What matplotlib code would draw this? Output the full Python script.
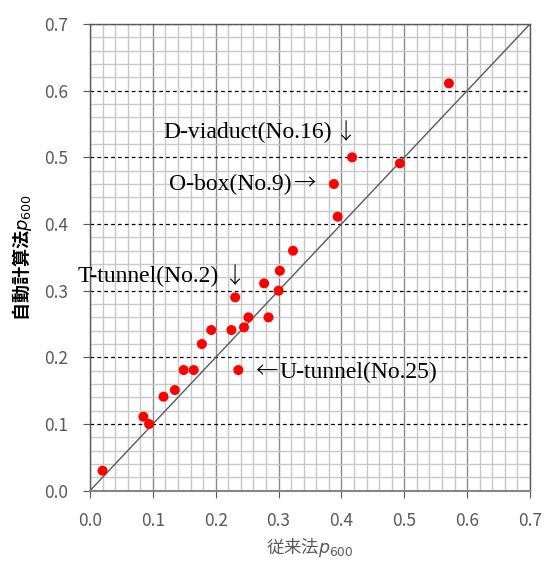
import matplotlib
matplotlib.use("Agg")
import matplotlib.pyplot as plt
import numpy as np

plt.rcParams['font.family'] = ['Noto Sans CJK JP', 'DejaVu Sans']

# conventional method p600 vs automatic calculation p600
conv_p600 = [0.571, 0.417, 0.493, 0.388, 0.394, 0.323, 0.302, 0.277, 0.300,
             0.231, 0.252, 0.284, 0.193, 0.225, 0.245, 0.178, 0.149, 0.165,
             0.236, 0.135, 0.117, 0.085, 0.094, 0.020]
auto_p600 = [0.611, 0.500, 0.491, 0.460, 0.411, 0.360, 0.330, 0.311, 0.300,
             0.290, 0.260, 0.260, 0.241, 0.241, 0.245, 0.220, 0.181, 0.181,
             0.181, 0.151, 0.141, 0.111, 0.100, 0.030]

ticks = [0.0, 0.1, 0.2, 0.3, 0.4, 0.5, 0.6, 0.7]
tick_labels = ["0.0", "0.1", "0.2", "0.3", "0.4", "0.5", "0.6", "0.7"]

# annotations: label, label x (left edge), arrow, arrow x (centre), y (centre)
notes = [
    ("D-viaduct(No.16)", 0.116, "↓", 0.406, 0.537),
    ("O-box(No.9)", 0.126, "→", 0.341, 0.460),
    ("T-tunnel(No.2)", -0.019, "↓", 0.229, 0.321),
    ("U-tunnel(No.25)", 0.301, "←", 0.280, 0.178),
]

fig = plt.figure(figsize=(5.44, 5.61), dpi=100)
ax = fig.add_axes([0.1654, 0.1253, 0.8089, 0.8319])

ax.set_xlim(0, 0.7)
ax.set_ylim(0, 0.7)

# grids
ax.set_xticks(ticks)
ax.set_yticks(ticks)
ax.set_xticks(np.arange(0, 0.701, 0.02), minor=True)
ax.set_yticks(np.arange(0, 0.701, 0.02), minor=True)
ax.grid(which="minor", color="#c8c8c8", lw=1.0, zorder=0)
ax.grid(which="major", axis="x", color="#8a8a8a", lw=1.0, zorder=1)
ax.grid(which="major", axis="y", color="black", lw=0.9, ls=(0, (3, 2.5)), zorder=1)
ax.set_axisbelow(True)

ax.set_xticklabels(tick_labels)
ax.set_yticklabels(tick_labels)
ax.tick_params(which="major", direction="out", length=5, color="#595959",
               labelsize=12.5, labelcolor="#595959")
ax.tick_params(axis="x", which="major", pad=10)
ax.tick_params(axis="y", which="major", pad=11)
ax.tick_params(which="minor", length=0)

for side in ["left", "right", "top"]:
    ax.spines[side].set_color("#595959")
    ax.spines[side].set_linewidth(1.0)
ax.spines["bottom"].set_color("#868686")
ax.spines["bottom"].set_linewidth(1.5)

# 1:1 line
ax.plot([0, 0.7], [0, 0.7], color="#595959", lw=1.0, zorder=2)

ax.scatter(conv_p600, auto_p600, s=52, color="#ff0000", edgecolors="none", zorder=3)

for label, lx, arrow, axx, y in notes:
    ax.text(lx, y, label, family=["Liberation Serif", "DejaVu Serif"], fontsize=17,
            ha="left", va="center", color="black", zorder=4)
    ax.text(axx, y, arrow, family=["Noto Sans CJK JP"], fontsize=16,
            fontweight="light", ha="center", va="center", color="black", zorder=4)

ax.set_xlabel("従来法$p_{600}$", fontsize=12.5, color="#595959", labelpad=5)
ax.set_ylabel("自動計算法$p_{600}$", fontsize=13, color="black", fontweight="bold",
              labelpad=7)

fig.savefig("out.png", dpi=100)
